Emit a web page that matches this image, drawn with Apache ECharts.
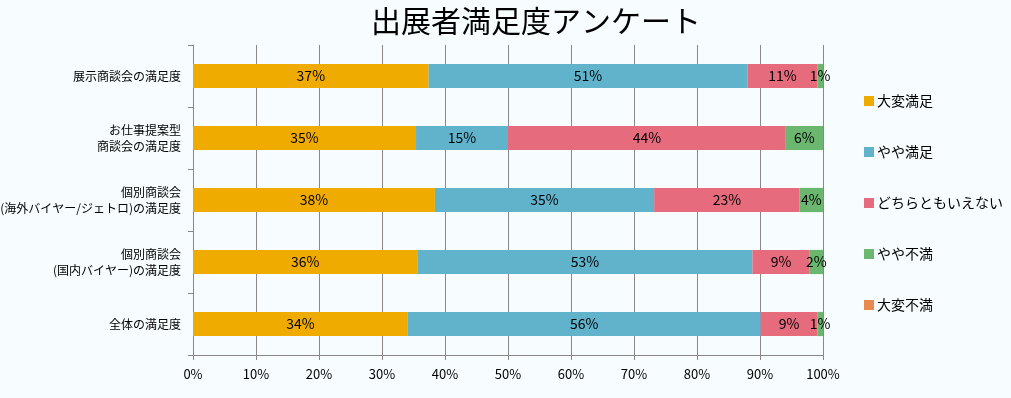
<!DOCTYPE html>
<html>
<head>
<meta charset="utf-8">
<script src="https://cdn.jsdelivr.net/npm/echarts@6/dist/echarts.min.js"></script>
<style>
  html, body { margin: 0; padding: 0; background: #f7fcfe; }
  #chart { width: 1011px; height: 398px; }
</style>
</head>
<body>
<div id="chart"></div>
<script>
// カテゴリ（上から順）
const categories = [
  '展示商談会の満足度',
  'お仕事提案型\n商談会の満足度',
  '個別商談会\n(海外バイヤー/ジェトロ)の満足度',
  '個別商談会\n(国内バイヤー)の満足度',
  '全体の満足度'
];
const seriesNames = ['大変満足', 'やや満足', 'どちらともいえない', 'やや不満', '大変不満'];
// 各回答の割合（%）
const veryGood = [37.4, 35.4, 38.4, 35.6, 34.1];
const good = [50.6, 14.6, 34.8, 53.2, 56.0];
const neutral = [11.1, 44.1, 23.1, 9.1, 9.0];
const bad = [0.9, 5.9, 3.7, 2.1, 0.9];
const veryBad = [0, 0, 0, 0, 0];
const xTicks = [0, 10, 20, 30, 40, 50, 60, 70, 80, 90, 100];

const colors = ['#f0ab00', '#61b3cc', '#e66c7d', '#6bb76f', '#e8894f'];
const values = [veryGood, good, neutral, bad, veryBad];

const chart = echarts.init(document.getElementById('chart'));
const font = '"Noto Sans CJK JP", "Noto Sans", sans-serif';

const option = {
  backgroundColor: '#f7fcfe',
  textStyle: { fontFamily: font },
  title: {
    text: '出展者満足度アンケート',
    left: 531,
    top: 1,
    textAlign: 'center',
    textStyle: { fontSize: 30, fontWeight: 'normal', color: '#000', fontFamily: font }
  },
  legend: {
    orient: 'vertical',
    left: 859,
    top: 88,
    itemWidth: 10,
    itemHeight: 10,
    itemGap: 35,
    icon: 'rect',
    data: seriesNames,
    textStyle: { fontSize: 14, color: '#000', lineHeight: 16, padding: [0, 0, 0, -2] }
  },
  grid: {
    left: 193,
    right: 188,
    top: 45,
    bottom: 43,
    containLabel: false,
    outerBoundsMode: 'none'
  },
  xAxis: {
    type: 'value',
    min: 0,
    max: 100,
    interval: 10,
    axisLine: { show: true, lineStyle: { color: '#888' } },
    axisTick: { show: true, length: 5, lineStyle: { color: '#888' } },
    splitLine: { show: true, lineStyle: { color: '#888', width: 1 } },
    axisLabel: {
      color: '#000',
      fontSize: 13,
      margin: 13,
      formatter: v => (xTicks.includes(v) ? v + '%' : '')
    }
  },
  yAxis: {
    type: 'category',
    inverse: true,
    data: categories,
    axisLine: { show: true, lineStyle: { color: '#888' } },
    axisTick: { show: true, length: 5, lineStyle: { color: '#888' } },
    axisLabel: { color: '#000', fontSize: 12, lineHeight: 16, margin: 12 }
  },
  series: seriesNames.map((name, i) => ({
    name: name,
    type: 'bar',
    stack: 'total',
    barWidth: '39%',
    itemStyle: { color: colors[i] },
    label: {
      show: true,
      position: 'inside',
      color: '#000',
      fontSize: 14,
      fontFamily: font,
      formatter: p => (p.value > 0 ? Math.round(p.value) + '%' : '')
    },
    labelLayout: { hideOverlap: false },
    data: values[i]
  }))
};
chart.setOption(option);
</script>
</body>
</html>
